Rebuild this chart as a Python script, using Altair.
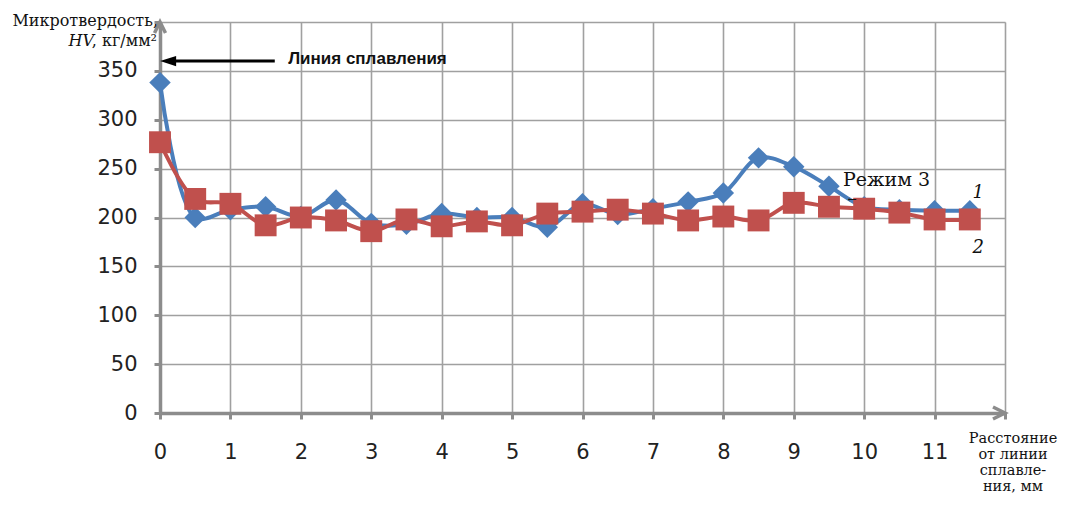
import altair as alt
import pandas as pd

# distance from fusion line, mm
dist = [0, 0.5, 1, 1.5, 2, 2.5, 3, 3.5, 4, 4.5, 5, 5.5,
        6, 6.5, 7, 7.5, 8, 8.5, 9, 9.5, 10, 10.5, 11, 11.5]
# microhardness HV, series 1 (blue diamonds)
hv1 = [338, 200, 208, 211, 201, 218, 194, 193, 204, 200, 200, 190,
       214, 203, 209, 216, 225, 261, 252, 232, 211, 208, 207, 207]
# microhardness HV, series 2 (red squares)
hv2 = [277, 219, 214, 192, 200, 197, 186, 198, 191, 196, 192, 204,
       206, 208, 204, 197, 201, 197, 215, 211, 209, 205, 198, 198]

x_ticks = list(range(0, 13))
y_ticks = list(range(0, 401, 50))

BLUE = "#4A7EBB"
RED = "#C0504D"
AXIS = "#8c8c8c"
GRID = "#a0a0a0"
SERIF = "DejaVu Serif"

df = pd.DataFrame({"x": dist, "s1": hv1, "s2": hv2})

xs = alt.Scale(domain=[0, 12], nice=False, zero=False)
ys = alt.Scale(domain=[0, 400], nice=False)

X = alt.X("x:Q", scale=xs, axis=alt.Axis(
    values=x_ticks, title=None, format="d", labelFlush=False,
    labelExpr="datum.value == 12 ? '' : datum.label",
    labelFont="DejaVu Sans", labelFontSize=21, labelColor="#222",
    labelPadding=22, tickSize=6, tickWidth=3, tickColor=AXIS,
    domainColor=AXIS, domainWidth=3.5,
    grid=True, gridColor=GRID, gridWidth=1.6))

def Y(field):
    return alt.Y(field, scale=ys, axis=alt.Axis(
        values=y_ticks, title=None, format="d", labelFlush=False,
        labelExpr="datum.value == 400 ? '' : datum.label",
        labelFont="DejaVu Sans", labelFontSize=21, labelColor="#222",
        labelPadding=17, tickSize=6, tickWidth=3, tickColor=AXIS,
        domainColor=AXIS, domainWidth=3.5,
        grid=True, gridColor=GRID, gridWidth=1.6))

base = alt.Chart(df)

line1 = base.mark_line(color=BLUE, strokeWidth=4, interpolate="catmull-rom").encode(x=X, y=Y("s1:Q"))
pts1 = base.mark_point(shape="diamond", filled=True, opacity=1, color=BLUE, size=460).encode(x=X, y=Y("s1:Q"))
line2 = base.mark_line(color=RED, strokeWidth=4, interpolate="catmull-rom").encode(x=X, y=Y("s2:Q"))
pts2 = base.mark_point(shape="square", filled=True, opacity=1, color=RED, size=480).encode(x=X, y=Y("s2:Q"))

# axis arrowheads
arr_r = alt.Chart(pd.DataFrame({"x": [12], "y": [0]})).mark_point(
    shape="M -1 -0.5 L 0 0 L -1 0.5", filled=False, stroke=AXIS, strokeWidth=3.5,
    size=576, opacity=1).encode(x=alt.X("x:Q", scale=xs), y=alt.Y("y:Q", scale=ys))
arr_u = alt.Chart(pd.DataFrame({"x": [0], "y": [400]})).mark_point(
    shape="M -0.5 1 L 0 0 L 0.5 1", filled=False, stroke=AXIS, strokeWidth=3.5,
    size=484, opacity=1).encode(x=alt.X("x:Q", scale=xs), y=alt.Y("y:Q", scale=ys))

# fusion line annotation arrow
fl = pd.DataFrame({"x": [0.15], "x2": [1.63], "y": [360]})
fl_rule = alt.Chart(fl).mark_rule(color="black", strokeWidth=3).encode(
    x=alt.X("x:Q", scale=xs), x2="x2:Q", y=alt.Y("y:Q", scale=ys))
fl_head = alt.Chart(pd.DataFrame({"x": [0.115], "y": [360]})).mark_point(
    shape="M -1 0 L 1 -0.65 L 1 0.65 Z", filled=True, color="black", size=256, opacity=1
).encode(x=alt.X("x:Q", scale=xs), y=alt.Y("y:Q", scale=ys))

labels = pd.DataFrame({
    "x": [1.82, 9.70, 11.62, 11.62, 9.83],
    "y": [362, 238, 225, 169, 218],
    "t": ["Линия сплавления", "Режим 3", "1", "2", "←"],
})
fl_text = alt.Chart(labels.iloc[[0]]).mark_text(
    font="Liberation Sans", fontWeight="bold", fontSize=17, align="left", baseline="middle", color="#111"
).encode(x=alt.X("x:Q", scale=xs), y=alt.Y("y:Q", scale=ys), text="t:N")
rej_text = alt.Chart(labels.iloc[[1]]).mark_text(
    font=SERIF, fontSize=19, align="left", baseline="middle", color="#111"
).encode(x=alt.X("x:Q", scale=xs), y=alt.Y("y:Q", scale=ys), text="t:N")
num_text = alt.Chart(labels.iloc[[2, 3]]).mark_text(
    font=SERIF, fontStyle="italic", fontSize=18, align="center", baseline="middle", color="#111"
).encode(x=alt.X("x:Q", scale=xs), y=alt.Y("y:Q", scale=ys), text="t:N")
small_arrow = alt.Chart(labels.iloc[[4]]).mark_text(
    font=SERIF, fontSize=11, align="center", baseline="middle", color="#111"
).encode(x=alt.X("x:Q", scale=xs), y=alt.Y("y:Q", scale=ys), text="t:N")

# axis titles
yt1 = alt.Chart(df.head(1)).mark_text(
    font=SERIF, fontSize=16, align="right", baseline="alphabetic", color="#111"
).encode(x=alt.value(-2), y=alt.value(4), text=alt.value("Микротвердость,"))
yt2 = alt.Chart(df.head(1)).mark_text(
    font=SERIF, fontSize=16, align="right", baseline="alphabetic", color="#111"
).encode(x=alt.value(-3), y=alt.value(24), text=alt.value(", кг/мм²"))
yt3 = alt.Chart(df.head(1)).mark_text(
    font=SERIF, fontSize=16, fontStyle="italic", align="right", baseline="alphabetic", color="#111"
).encode(x=alt.value(-66), y=alt.value(24), text=alt.value("HV"))
xt = alt.Chart(df.head(1)).mark_text(
    font=SERIF, fontSize=14.5, align="center", baseline="top", color="#111",
    lineBreak="\n", lineHeight=16
).encode(x=alt.value(853), y=alt.value(410), text=alt.value("Расстояние\nот линии\nсплавле-\nния, мм"))

chart = alt.layer(
    line1, pts1, line2, pts2, arr_r, arr_u, fl_rule, fl_head,
    fl_text, rej_text, num_text, small_arrow, yt1, yt2, yt3, xt
).properties(
    width=845, height=391,
    padding={"left": 152, "top": 14, "right": 53, "bottom": 80},
    autosize=alt.AutoSizeParams(type="none"),
).configure_view(strokeWidth=0).configure(background="white")

chart.save("out.html", embed_options={"renderer": "svg", "actions": False})
